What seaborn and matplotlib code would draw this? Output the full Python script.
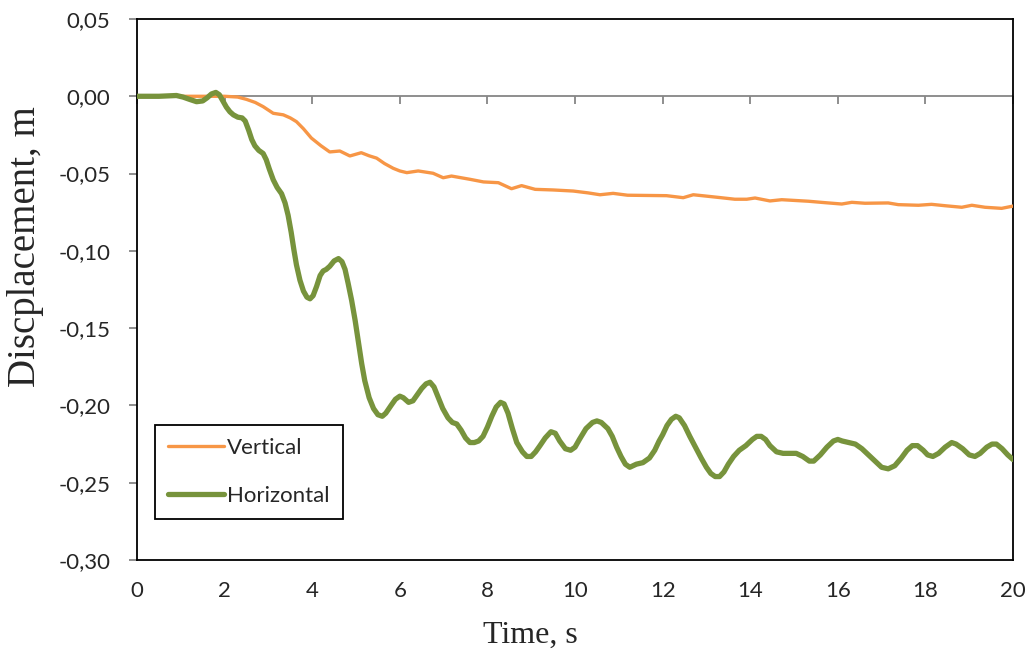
import numpy as np
import pandas as pd
import matplotlib
matplotlib.use("Agg")
import matplotlib.pyplot as plt
import seaborn as sns
from matplotlib.ticker import FuncFormatter, MultipleLocator

# Displacement histories (time in s, displacement in m)
t_vertical = [0.0, 1.0, 2.0, 2.3, 2.5, 2.7, 2.88, 3.11, 3.34, 3.5, 3.64, 3.8, 3.98,
              4.2, 4.4, 4.63, 4.86, 5.12, 5.3, 5.47, 5.65, 5.85, 6.0, 6.16, 6.42,
              6.76, 6.99, 7.18, 7.6, 7.91, 8.25, 8.55, 8.78, 9.09, 9.5, 9.96, 10.3,
              10.57, 10.87, 11.2, 11.48, 12.09, 12.47, 12.7, 12.97, 13.3, 13.65,
              13.92, 14.11, 14.45, 14.72, 15.33, 15.7, 16.09, 16.32, 16.62, 17.15,
              17.38, 17.84, 18.14, 18.45, 18.83, 19.06, 19.36, 19.74, 19.97, 20.0]
d_vertical = [0.0, 0.0, 0.0, -0.0005, -0.002, -0.004, -0.0067, -0.011, -0.012,
              -0.014, -0.0164, -0.021, -0.027, -0.032, -0.036, -0.0354, -0.0386,
              -0.0365, -0.0385, -0.040, -0.0435, -0.0466, -0.0483, -0.0494, -0.0483,
              -0.0498, -0.0527, -0.0516, -0.0537, -0.0554, -0.0559, -0.0598, -0.0578,
              -0.0602, -0.0606, -0.0613, -0.0625, -0.0637, -0.0628, -0.0640, -0.0641,
              -0.0643, -0.0656, -0.0637, -0.0645, -0.0655, -0.0666, -0.0666, -0.0658,
              -0.0677, -0.0669, -0.0679, -0.0688, -0.0697, -0.0686, -0.0692, -0.0690,
              -0.0701, -0.0705, -0.0699, -0.0708, -0.0718, -0.0705, -0.0718, -0.0725,
              -0.0712, -0.0710]

t_horizontal = [0.0, 0.5, 0.9, 1.05, 1.2, 1.36, 1.5, 1.6, 1.7, 1.8, 1.88, 1.96,
                2.04, 2.12, 2.2, 2.3, 2.4, 2.47, 2.55, 2.62, 2.69, 2.78, 2.88, 2.95,
                3.02, 3.11, 3.2, 3.3, 3.38, 3.45, 3.52, 3.58, 3.64, 3.72, 3.8, 3.88,
                3.95, 4.02, 4.1, 4.18, 4.25, 4.32, 4.4, 4.5, 4.6, 4.68, 4.75, 4.82,
                4.9, 4.98, 5.06, 5.13, 5.2, 5.3, 5.4, 5.5, 5.6, 5.68, 5.8, 5.9, 6.0,
                6.08, 6.2, 6.3, 6.4, 6.5, 6.6, 6.69, 6.78, 6.88, 6.98, 7.1, 7.2, 7.3,
                7.4, 7.5, 7.6, 7.7, 7.8, 7.9, 8.0, 8.1, 8.2, 8.3, 8.38, 8.47, 8.57,
                8.67, 8.8, 8.9, 9.0, 9.1, 9.2, 9.32, 9.45, 9.55, 9.65, 9.78, 9.9,
                10.0, 10.1, 10.25, 10.4, 10.5, 10.6, 10.75, 10.85, 10.95, 11.05,
                11.15, 11.25, 11.4, 11.55, 11.7, 11.82, 11.92, 12.0, 12.1, 12.2, 12.3,
                12.38, 12.5, 12.62, 12.75, 12.88, 13.0, 13.1, 13.2, 13.3, 13.4, 13.5,
                13.62, 13.75, 13.9, 14.05, 14.15, 14.25, 14.35, 14.45, 14.6, 14.75,
                14.9, 15.05, 15.2, 15.35, 15.45, 15.6, 15.75, 15.9, 16.0, 16.1, 16.25,
                16.4, 16.55, 16.7, 16.85, 17.0, 17.15, 17.3, 17.45, 17.58, 17.7,
                17.82, 17.95, 18.05, 18.17, 18.3, 18.45, 18.6, 18.7, 18.85, 19.0,
                19.13, 19.25, 19.4, 19.52, 19.62, 19.75, 19.88, 20.0]
d_horizontal = [0.0, 0.0, 0.0005, -0.0005, -0.002, -0.0035, -0.003, -0.001, 0.0015,
                0.0025, 0.001, -0.003, -0.007, -0.010, -0.012, -0.0135, -0.014,
                -0.016, -0.022, -0.028, -0.032, -0.035, -0.037, -0.041, -0.047,
                -0.054, -0.059, -0.063, -0.069, -0.077, -0.088, -0.099, -0.109,
                -0.119, -0.126, -0.130, -0.131, -0.129, -0.123, -0.116, -0.113,
                -0.112, -0.110, -0.1065, -0.105, -0.107, -0.112, -0.121, -0.132,
                -0.145, -0.160, -0.173, -0.184, -0.195, -0.202, -0.206, -0.207,
                -0.205, -0.200, -0.196, -0.194, -0.195, -0.198, -0.197, -0.193,
                -0.189, -0.186, -0.185, -0.188, -0.195, -0.202, -0.208, -0.211,
                -0.212, -0.216, -0.221, -0.224, -0.224, -0.223, -0.220, -0.214,
                -0.207, -0.201, -0.198, -0.199, -0.205, -0.215, -0.224, -0.230,
                -0.233, -0.233, -0.230, -0.226, -0.221, -0.217, -0.218, -0.223,
                -0.228, -0.229, -0.227, -0.222, -0.215, -0.211, -0.210, -0.211,
                -0.215, -0.220, -0.227, -0.233, -0.238, -0.240, -0.238, -0.237,
                -0.234, -0.229, -0.223, -0.219, -0.213, -0.209, -0.207, -0.208,
                -0.213, -0.220, -0.227, -0.234, -0.240, -0.244, -0.246, -0.246,
                -0.243, -0.238, -0.233, -0.229, -0.226, -0.222, -0.220, -0.220,
                -0.222, -0.226, -0.230, -0.231, -0.231, -0.231, -0.233, -0.236,
                -0.236, -0.232, -0.227, -0.223, -0.222, -0.223, -0.224, -0.225,
                -0.228, -0.232, -0.236, -0.240, -0.241, -0.239, -0.234, -0.229,
                -0.226, -0.226, -0.229, -0.232, -0.233, -0.231, -0.227, -0.224,
                -0.225, -0.228, -0.232, -0.233, -0.231, -0.227, -0.225, -0.225,
                -0.228, -0.232, -0.235]

x_ticks = [0, 2, 4, 6, 8, 10, 12, 14, 16, 18, 20]
y_ticks = [0.05, 0.0, -0.05, -0.10, -0.15, -0.20, -0.25, -0.30]

sns.set_style("white")
tick_font = ["Lato", "DejaVu Sans"]
label_font = ["Liberation Serif", "DejaVu Serif"]

fig = plt.figure(figsize=(10.27, 6.55), dpi=100)
ax = fig.add_axes([0.1334, 0.145, 0.853, 0.826])

vertical = pd.DataFrame({"t": t_vertical, "d": d_vertical})
horizontal = pd.DataFrame({"t": t_horizontal, "d": d_horizontal})

# zero reference line with its own downward ticks
ax.axhline(0, color="#868686", lw=1.3, zorder=1)
sec = ax.secondary_xaxis((0 - (-0.30)) / 0.35)
sec.set_xticks(x_ticks)
sec.tick_params(axis="x", direction="out", length=6, width=1.3, color="#868686",
                labelbottom=False, labeltop=False, top=False, bottom=True)
sec.spines["bottom"].set_visible(False)
sec.spines["top"].set_visible(False)

sns.lineplot(data=vertical, x="t", y="d", ax=ax, color="#F79646", lw=2.4,
             label="Vertical", zorder=3, solid_joinstyle="round")
sns.lineplot(data=horizontal, x="t", y="d", ax=ax, color="#77933C", lw=3.8,
             label="Horizontal", zorder=4, solid_joinstyle="round",
             solid_capstyle="round")

ax.set_xlim(0, 20)
ax.set_ylim(-0.30, 0.05)
ax.xaxis.set_major_locator(MultipleLocator(2))
ax.set_yticks(y_ticks)
ax.yaxis.set_major_formatter(FuncFormatter(lambda v, p: f"{v:.2f}".replace(".", ",")
                                           .replace("-0,00", "0,00")))
ax.tick_params(axis="x", length=0, pad=15, labelsize=16)
ax.tick_params(axis="y", direction="out", length=6, width=1.3, color="#868686",
               pad=13, labelsize=16, left=True)
for lab in ax.get_xticklabels() + ax.get_yticklabels():
    lab.set_family(tick_font)

for sp in ax.spines.values():
    sp.set_visible(True)
    sp.set_color("black")
    sp.set_linewidth(1.3)

ax.set_xlabel("Time, s", family=label_font, fontsize=23)
ax.set_ylabel("Discplacement, m", family=label_font, fontsize=28)
ax.xaxis.set_label_coords(0.449, -0.113)
ax.yaxis.set_label_coords(-0.106, 0.58)

leg = ax.legend(loc="lower left", bbox_to_anchor=(0.0205, 0.0758),
                borderaxespad=0, frameon=True, fancybox=False,
                edgecolor="black", handlelength=2.5, handletextpad=0.15,
                labelspacing=1.25, borderpad=0.6,
                prop={"family": tick_font, "size": 16})
leg.get_frame().set_linewidth(1.3)
leg.get_frame().set_alpha(1)

fig.savefig("out.png", dpi=100)
